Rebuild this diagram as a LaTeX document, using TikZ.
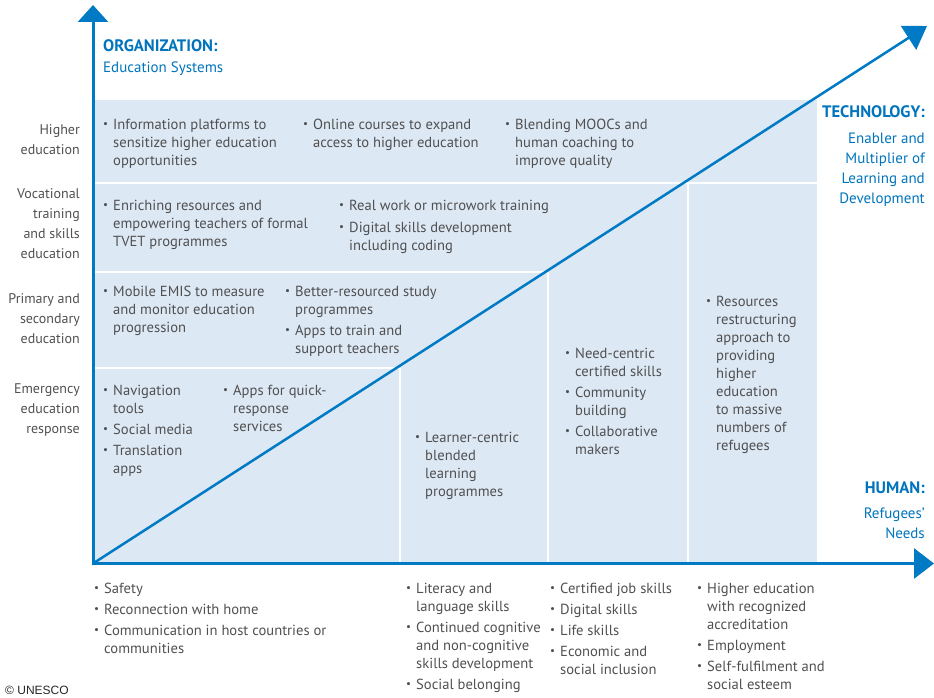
\documentclass[tikz,border=0pt]{standalone}
\usepackage{fontspec}
\usepackage{graphicx}
\setmainfont{PT Sans}
\newfontfamily\crfont{Liberation Sans}
\usetikzlibrary{arrows.meta}
\definecolor{unblue}{RGB}{0,116,188}
\definecolor{axisblue}{RGB}{0,122,196}
\definecolor{paleblue}{RGB}{221,232,245}
\definecolor{txtgray}{RGB}{80,80,80}
\newcommand\bul{\makebox[10pt][l]{\raisebox{0.1em}{\scalebox{0.75}{\textbullet}}}}
\newcommand\blk[1]{\begin{tabular}[t]{@{}l@{}l@{}}#1\end{tabular}}
\newcommand\rlk[1]{\begin{tabular}[t]{@{}r@{}}#1\end{tabular}}
\begin{document}
\begin{tikzpicture}[x=1pt,y=-1pt,
 txt/.style={inner sep=0pt, anchor=base west, text=txtgray, font=\fontsize{14.6}{18}\selectfont},
 lab/.style={inner sep=0pt, anchor=base east, text=txtgray, font=\fontsize{14}{20}\selectfont},
 headb/.style={inner sep=0pt, text=unblue, font=\fontsize{16.6}{20}\selectfont\bfseries},
 headr/.style={inner sep=0pt, text=unblue, font=\fontsize{15}{20}\selectfont},
 divider/.style={white, line width=1.5pt},
 axis/.style={axisblue, line width=3pt, line cap=rect},
]
\useasboundingbox (0,0) rectangle (934,698);
% background field
\fill[paleblue] (93,100) rectangle (817,563);
\draw[divider] (93,183) -- (817,183);
\draw[divider] (93,272) -- (548,272);
\draw[divider] (93,368) -- (400,368);
\draw[divider] (400,368) -- (400,563);
\draw[divider] (548,272) -- (548,563);
\draw[divider] (688,183) -- (688,563);
% axes
\coordinate (O) at (93,563.5);
\coordinate (Ytip) at (93,5);
\coordinate (Xtip) at (934,563.5);
\coordinate (Dtip) at (927,26);
\draw[axis, -{Triangle[width=30pt,length=17pt]}] (O) -- (Ytip);
\draw[axis, -{Triangle[width=30pt,length=20pt]}] (O) -- (Xtip);
\draw[axisblue, line width=2.5pt, -{Triangle[width=28pt,length=22pt]}] (O) -- (Dtip);
% headings
\node[headb, anchor=base west] (orgh) at (103,52) {ORGANIZATION:};
\node[headr, anchor=base west] (orgs) at (103,73) {Education Systems};
\node[headb, anchor=base east] (tech) at (925,118) {TECHNOLOGY:};
\node[headr, anchor=base east] (techs) at (925,143) {\rlk{Enabler and\\Multiplier of\\Learning and\\Development}};
\node[headb, anchor=base east] (hum) at (925,493) {HUMAN:};
\node[headr, anchor=base east] (hums) at (925,518) {\rlk{Refugees’\\Needs}};
% row labels
\node[lab] (l1) at (80,135) {\rlk{Higher\\education}};
\node[lab] (l2) at (80,198) {\rlk{Vocational\\training\\and skills\\education}};
\node[lab] (l3) at (80,303) {\rlk{Primary and\\secondary\\education}};
\node[lab] (l4) at (80,393) {\rlk{Emergency\\education\\response}};
% cells
\node[txt] (h1) at (103,129) {\blk{\bul&Information platforms to\\&sensitize higher education\\&opportunities}};
\node[txt] (h2) at (303,129) {\blk{\bul&Online courses to expand\\&access to higher education}};
\node[txt] (h3) at (505,129) {\blk{\bul&Blending MOOCs and\\&human coaching to\\&improve quality}};
\node[txt] (v1) at (103,210) {\blk{\bul&Enriching resources and\\&empowering teachers of formal\\&TVET programmes}};
\node[txt] (v2) at (339,210) {\blk{\bul&Real work or microwork training\\[4pt]\bul&Digital skills development\\&including coding}};
\node[txt] (p1) at (103,296) {\blk{\bul&Mobile EMIS to measure\\&and monitor education\\&progression}};
\node[txt] (p2) at (285,296) {\blk{\bul&Better-resourced study\\&programmes\\[3pt]\bul&Apps to train and\\&support teachers}};
\node[txt] (e1) at (103,395) {\blk{\bul&Navigation\\&tools\\[3pt]\bul&Social media\\[3pt]\bul&Translation\\&apps}};
\node[txt] (e2) at (223,395) {\blk{\bul&Apps for quick-\\&response\\&services}};
\node[txt] (c1) at (415,442) {\blk{\bul&Learner-centric\\&blended\\&learning\\&programmes}};
\node[txt] (c2) at (565,358) {\blk{\bul&Need-centric\\&certified skills\\[3pt]\bul&Community\\&building\\[3pt]\bul&Collaborative\\&makers}};
\node[txt] (c3) at (706,306) {\blk{\bul&Resources\\&restructuring\\&approach to\\&providing\\&higher\\&education\\&to massive\\&numbers of\\&refugees}};
% needs along the horizontal axis
\node[txt] (b1) at (94,593) {\blk{\bul&Safety\\[3pt]\bul&Reconnection with home\\[3pt]\bul&Communication in host countries or\\&communities}};
\node[txt] (b2) at (406,593) {\blk{\bul&Literacy and\\&language skills\\[3pt]\bul&Continued cognitive\\&and non-cognitive\\&skills development\\[3pt]\bul&Social belonging}};
\node[txt] (b3) at (550,593) {\blk{\bul&Certified job skills\\[3pt]\bul&Digital skills\\[3pt]\bul&Life skills\\[3pt]\bul&Economic and\\&social inclusion}};
\node[txt] (b4) at (697,593) {\blk{\bul&Higher education\\&with recognized\\&accreditation\\[3pt]\bul&Employment\\[3pt]\bul&Self-fulfilment and\\&social esteem}};
\node[inner sep=0pt, anchor=base west, font=\crfont\fontsize{12}{14}\selectfont, text=black!85] (cr) at (5,694) {© UNESCO};
\end{tikzpicture}
\end{document}
